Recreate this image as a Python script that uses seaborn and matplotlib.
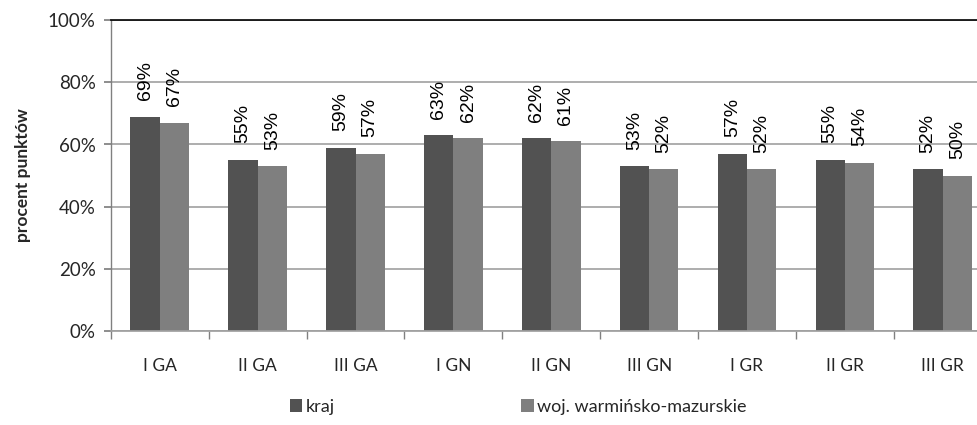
import matplotlib
matplotlib.use("Agg")
import matplotlib.pyplot as plt
import seaborn as sns
import pandas as pd
import numpy as np
from matplotlib.ticker import FuncFormatter, FixedLocator

categories = ["I GA", "II GA", "III GA", "I GN", "II GN", "III GN", "I GR", "II GR", "III GR"]
kraj = [69, 55, 59, 63, 62, 53, 57, 55, 52]
woj = [67, 53, 57, 62, 61, 52, 52, 54, 50]
series_names = ["kraj", "woj. warmińsko-mazurskie"]
colors = ["#525252", "#7f7f7f"]

df = pd.DataFrame({
    "cat": categories * 2,
    "val": kraj + woj,
    "series": [series_names[0]] * len(kraj) + [series_names[1]] * len(woj),
})

sns.set_theme(style="white")
plt.rcParams['font.family'] = ['Lato', 'DejaVu Sans']

fig = plt.figure(figsize=(9.77, 4.25), dpi=100)
ax = fig.add_axes([0.1135, 0.222, 0.9015, 0.73])

sns.barplot(data=df, x="cat", y="val", hue="series", palette=colors,
            width=0.6, ax=ax, legend=True, edgecolor="none", linewidth=0)

ax.set_ylim(0, 100)
ax.set_xlim(-0.5, 8.5)
ax.yaxis.set_major_locator(FixedLocator([0, 20, 40, 60, 80, 100]))
ax.yaxis.set_major_formatter(FuncFormatter(lambda v, p: f"{int(v)}%"))
ax.grid(axis="y", color="#a0a0a0", linewidth=1.2)
ax.set_axisbelow(True)
ax.set_xlabel("")
ax.set_ylabel("procent punktów", fontsize=12.5, fontweight="bold", labelpad=12)

ax.spines["right"].set_visible(False)
ax.spines["top"].set_color("black")
ax.spines["top"].set_linewidth(1.2)
ax.spines["left"].set_color("#808080")
ax.spines["bottom"].set_color("#a0a0a0")
ax.spines["left"].set_linewidth(1.0)

ax.tick_params(axis="y", which="major", left=True, length=5, color="#808080", labelsize=13.5, pad=6)
ax.tick_params(axis="x", which="major", bottom=False, labelsize=12.5, pad=14)
ax.set_xticks(range(len(categories)))
ax.set_xticklabels(categories)
ax.set_xticks(np.arange(-0.5, len(categories), 1.0), minor=True)
ax.tick_params(axis="x", which="minor", bottom=True, length=6, color="#808080")

for cont in ax.containers:
    labels = [f"{int(round(v))}%" for v in cont.datavalues]
    ax.bar_label(cont, labels=labels, rotation=90, padding=12, fontsize=14,
                 family="Liberation Sans", color="#000000")

handles, labs = ax.get_legend_handles_labels()
ax.get_legend().remove()
fig.legend(handles, labs, loc="lower left", bbox_to_anchor=(0.28, -0.015), ncol=2,
           frameon=False, fontsize=13, handlelength=0.7, handleheight=0.7,
           handletextpad=0.2, columnspacing=10.3)

fig.savefig("out.png", dpi=100)
